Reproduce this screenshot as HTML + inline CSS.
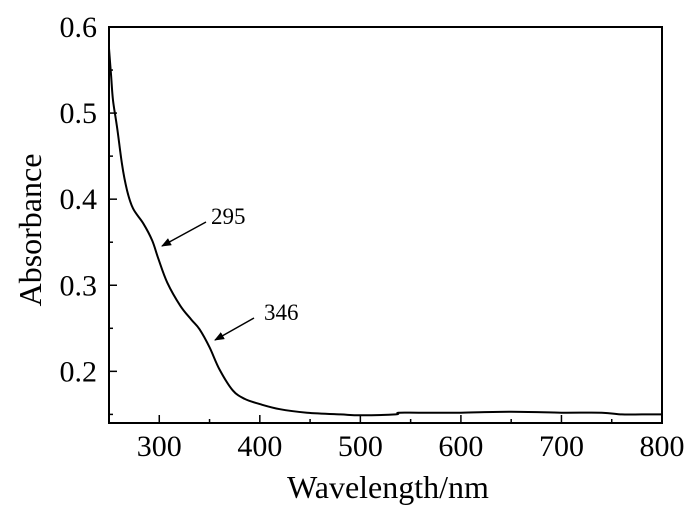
<!DOCTYPE html>
<html><head><meta charset="utf-8"><style>
html,body{margin:0;padding:0;background:#fff;}
svg{display:block;font-family:"Liberation Serif",serif;}
</style></head><body>
<svg id="chart" width="700" height="511" viewBox="0 0 700 511">
<defs><marker id="ah" markerWidth="10" markerHeight="8" refX="9" refY="4" orient="auto" markerUnits="userSpaceOnUse"><path d="M0,0 L10,4 L0,8 Z" fill="#000"/></marker></defs>
<g id="g"></g>
</svg>
<script>
const wavelengths=[250,252,254,258,263,268,274,284,293,299,308,321,332,340,350,360,373,385,400,420,447,480,500,535,538,560,600,650,700,740,760,780,800];
const absorbance=[0.575,0.545,0.515,0.484,0.440,0.410,0.389,0.372,0.352,0.331,0.303,0.276,0.260,0.249,0.228,0.202,0.178,0.168,0.162,0.156,0.152,0.150,0.149,0.150,0.152,0.152,0.152,0.153,0.152,0.152,0.150,0.150,0.150];
const xTicks=[300,400,500,600,700,800];
const yTicks=[0.2,0.3,0.4,0.5,0.6];
const L=109,R=662,T=27,B=423;
const xMin=250,xMax=800,yMin=0.14,yMax=0.6;
const xs=v=>L+(v-xMin)/(xMax-xMin)*(R-L);
const ys=v=>B-(v-yMin)/(yMax-yMin)*(B-T);
const g=document.getElementById('g');
const NS='http://www.w3.org/2000/svg';
function mk(t,a){const e=document.createElementNS(NS,t);for(const k in a)e.setAttribute(k,a[k]);g.appendChild(e);return e;}
let e=mk('rect',{x:L,y:T,width:R-L,height:B-T,fill:'none',stroke:'#000','stroke-width':2});


for(let v=xMin;v<=xMax;v+=50){const maj=v%100===0;e=mk('line',{x1:xs(v),x2:xs(v),y1:B,y2:B-(maj?8:4),stroke:'#000','stroke-width':1.5});

}
for(let v=0.15;v<=0.6001;v+=0.05){const maj=Math.abs(v*10-Math.round(v*10))<1e-6;e=mk('line',{x1:L,x2:L+(maj?8:4),y1:ys(v),y2:ys(v),stroke:'#000','stroke-width':1.5});

}
xTicks.forEach(v=>{e=mk('text',{x:xs(v),y:B+33,'text-anchor':'middle','font-size':30});e.textContent=v;

});
yTicks.forEach(v=>{e=mk('text',{x:L-12,y:ys(v)+10,'text-anchor':'end','font-size':30});e.textContent=v.toFixed(1);

});
e=mk('text',{x:388,y:498,'text-anchor':'middle','font-size':32});e.textContent='Wavelength/nm';


e=mk('text',{x:0,y:0,'text-anchor':'middle','font-size':32,transform:'translate(41,230) rotate(-90)'});e.textContent='Absorbance';


const pts=wavelengths.map((w,i)=>[xs(w),ys(absorbance[i])]);
let d='M'+pts[0][0].toFixed(1)+','+pts[0][1].toFixed(1);
for(let i=0;i<pts.length-1;i++){const p0=pts[i-1]||pts[i],p1=pts[i],p2=pts[i+1],p3=pts[i+2]||p2;
const c1=[p1[0]+(p2[0]-p0[0])/6,p1[1]+(p2[1]-p0[1])/6],c2=[p2[0]-(p3[0]-p1[0])/6,p2[1]-(p3[1]-p1[1])/6];
d+=' C'+c1.map(n=>n.toFixed(1)).join(',')+' '+c2.map(n=>n.toFixed(1)).join(',')+' '+p2[0].toFixed(1)+','+p2[1].toFixed(1);}
e=mk('path',{d:d,fill:'none',stroke:'#000','stroke-width':2});


e=mk('line',{x1:206,y1:222,x2:162,y2:246,stroke:'#000','stroke-width':1.5,'marker-end':'url(#ah)'});


e=mk('text',{x:211,y:224,'font-size':23});e.textContent='295';


e=mk('line',{x1:254,y1:318,x2:215,y2:340,stroke:'#000','stroke-width':1.5,'marker-end':'url(#ah)'});


e=mk('text',{x:264,y:320,'font-size':23});e.textContent='346';


</script>
</body></html>
